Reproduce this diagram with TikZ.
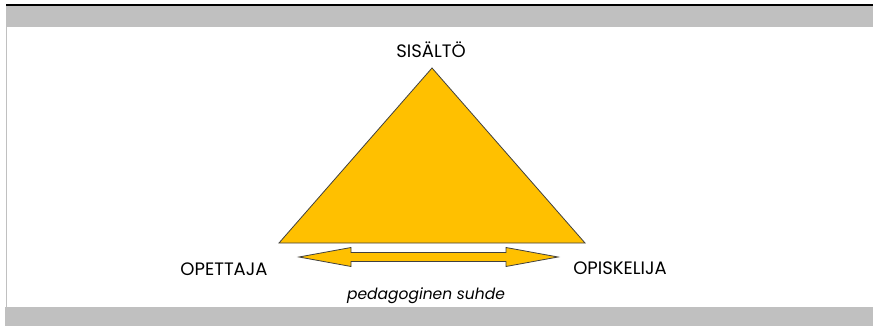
\documentclass[tikz,border=0pt]{standalone}
\usepackage{fontspec}
\setmainfont{Poppins}
\usetikzlibrary{positioning}
\definecolor{gold}{HTML}{FFC000}
\definecolor{band}{HTML}{C0C0C0}
\definecolor{edge}{HTML}{404040}

\begin{document}
\begin{tikzpicture}[x=1pt, y=-1pt,
    label/.style={font=\fontsize{18}{20}\selectfont, inner sep=0pt},
    goldshape/.style={fill=gold, draw=edge, line width=0.8pt, line join=miter},]
    \useasboundingbox (0,0) rectangle (873,326);
    % frame
    \fill[black] (6,4) rectangle (873,6);
    \fill[band] (6,6) rectangle (873,27);
    \fill[band] (6,27) rectangle (7.3,307);
    \fill[band] (4.7,307) rectangle (873,326);
    % corners
    \coordinate (top)   at (432,68);
    \coordinate (left)  at (279,243);
    \coordinate (right) at (585,243);
    \coordinate (ltip)  at (299,257);
    \coordinate (rtip)  at (558,257);
    % triangle
    \draw[goldshape] (top) -- (left) -- (right) -- cycle;
    % double arrow
    \draw[goldshape] (ltip) -- ++(52,-9.5) -- ++(0,5) -- ([xshift=-52pt, yshift=4.5pt]rtip) -- ++(0,-5)
        -- (rtip) -- ++(-52,9.5) -- ++(0,-5) -- ([xshift=52pt, yshift=-4.5pt]ltip) -- ++(0,5) -- cycle;
    % nodes
    \node[label] (sisalto)    at (431,50)  {SISÄLTÖ};
    \node[label] (opettaja)   at (224,269) {OPETTAJA};
    \node[label] (opiskelija) at (620,268) {OPISKELIJA};
    \node[label, font=\fontsize{15.5}{17}\selectfont\itshape] (suhde) at (426,296) {pedagoginen suhde};
\end{tikzpicture}
\end{document}
